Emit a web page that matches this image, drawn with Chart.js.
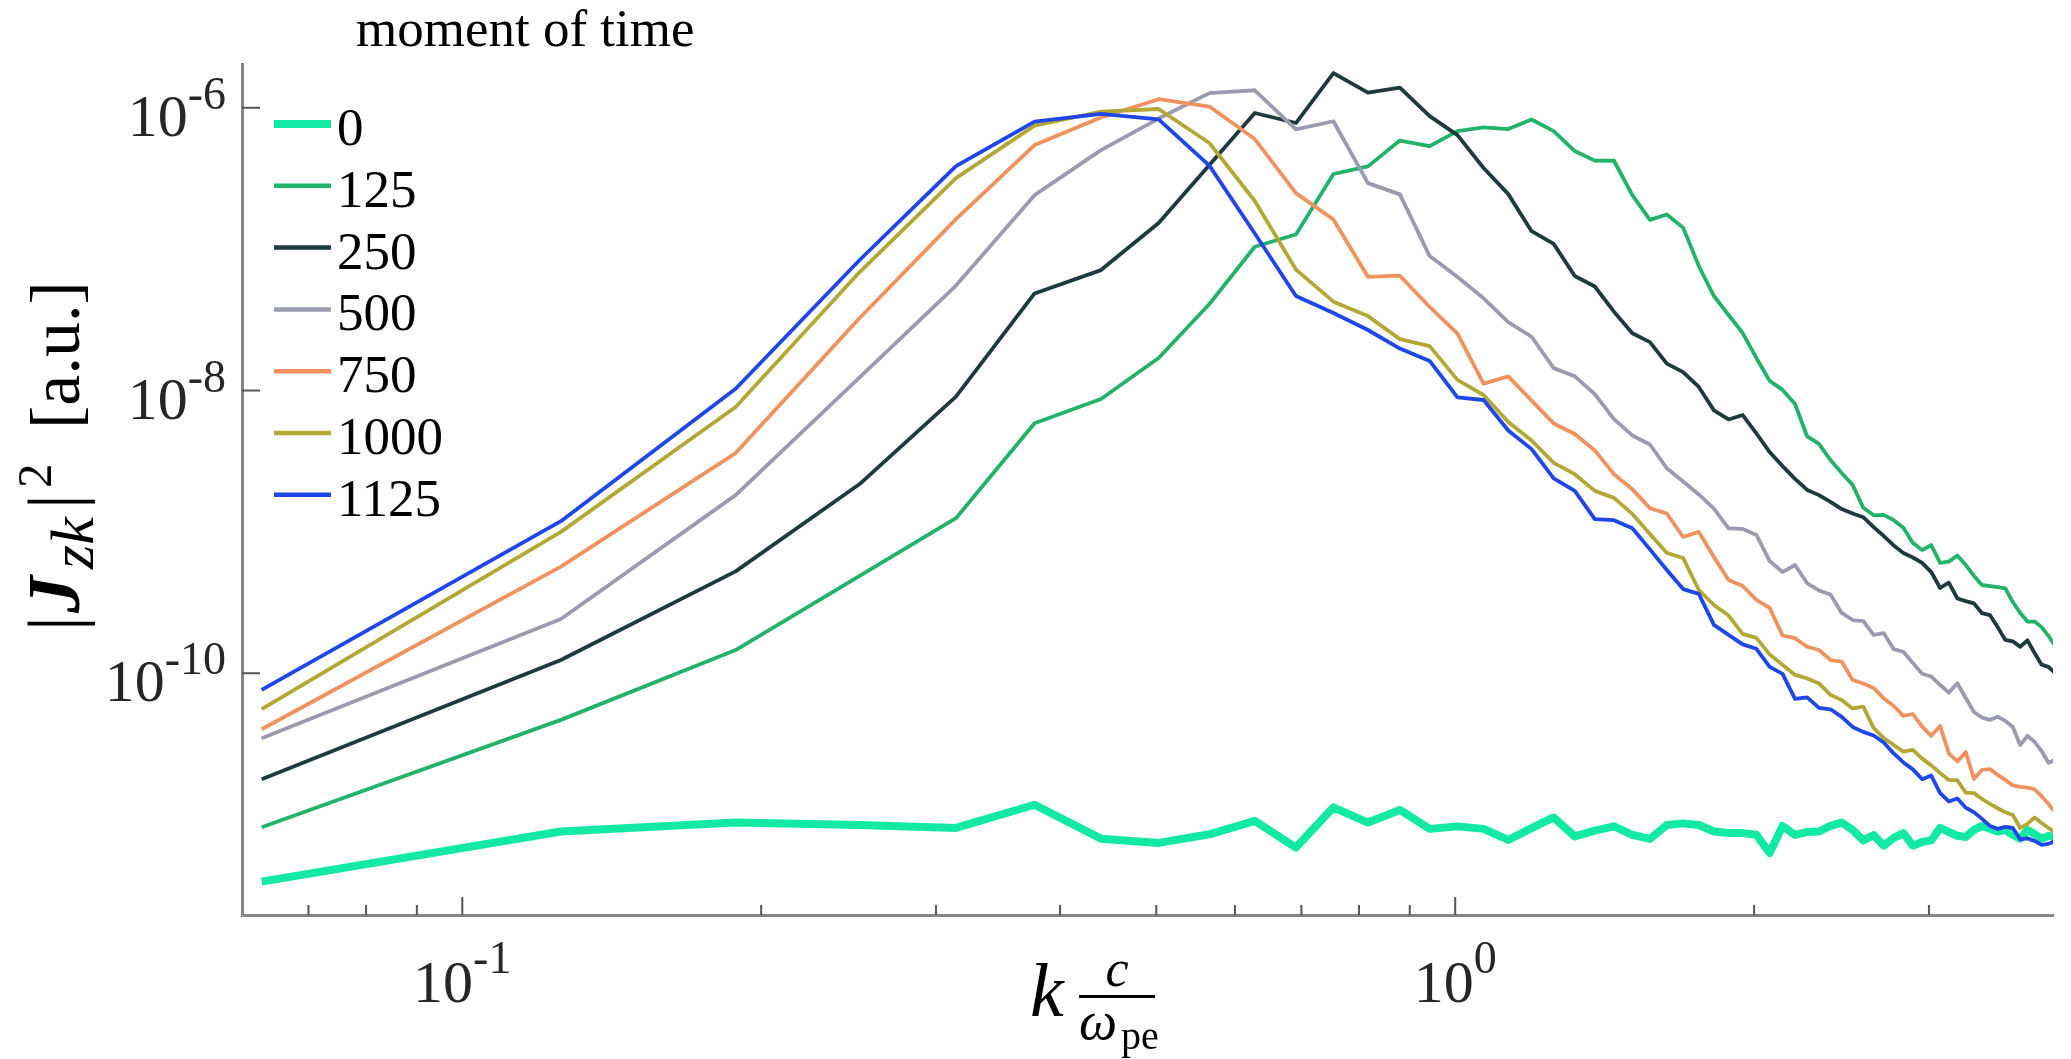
<!DOCTYPE html>
<html>
<head>
<meta charset="utf-8">
<script src="https://cdn.jsdelivr.net/npm/chart.js@4.4.0/dist/chart.umd.min.js"></script>
<style>
html,body{margin:0;padding:0;background:#fff;}
#wrap{width:2071px;height:1059px;position:relative;}
</style>
</head>
<body>
<div id="wrap"><canvas id="c"></canvas></div>
<script>
// wavenumber k c / omega_pe
const kValues = [0.0628,0.1257,0.1885,0.2513,0.3142,0.3770,0.4398,0.5027,0.5655,0.6283,
0.6912,0.7540,0.8168,0.8796,0.9425,1.0053,1.0681,1.1310,1.1938,1.2566,
1.3195,1.3823,1.4451,1.5080,1.5708,1.6336,1.6965,1.7593,1.8221,1.8850,
1.9478,2.0106,2.0735,2.1363,2.1991,2.2619,2.3248,2.3876,2.4504,2.5133,
2.5761,2.6389,2.7018,2.7646,2.8274,2.8903,2.9531,3.0159,3.0788,3.1416,
3.2044,3.2673,3.3301,3.3929,3.4558,3.5186,3.5814,3.6442,3.7071,3.7699,
3.8327,3.8956,3.9584,4.0212];

const t0 = [3.36e-12,7.59e-12,8.79e-12,8.45e-12,8.05e-12,1.175e-11,6.76e-12,6.31e-12,7.26e-12,9.04e-12,
5.85e-12,1.127e-11,8.79e-12,1.08e-11,7.93e-12,8.26e-12,7.93e-12,6.62e-12,8.02e-12,9.55e-12,
7.01e-12,7.71e-12,8.26e-12,7.19e-12,6.73e-12,8.45e-12,8.67e-12,8.45e-12,7.6e-12,7.41e-12,
7.4e-12,7.2e-12,5.36e-12,8.32e-12,7.18e-12,7.55e-12,7.6e-12,8.32e-12,8.79e-12,7.8e-12,
6.58e-12,7.18e-12,6.03e-12,6.84e-12,7.4e-12,6.03e-12,6.41e-12,6.58e-12,8.05e-12,7.55e-12,
7.08e-12,6.95e-12,7.8e-12,8.32e-12,7.93e-12,7.6e-12,7.8e-12,7.18e-12,6.76e-12,7.8e-12,
7.3e-12,6.76e-12,7.08e-12,6.95e-12];

const t125 = [8.15e-12,4.68e-11,1.46e-10,4.88e-10,1.25e-9,5.86e-9,8.71e-9,1.70e-8,4.09e-8,1.04e-7,
1.27e-7,3.40e-7,3.85e-7,5.86e-7,5.36e-7,6.84e-7,7.27e-7,7.07e-7,8.26e-7,6.84e-7,
4.94e-7,4.23e-7,4.22e-7,2.41e-7,1.61e-7,1.76e-7,1.42e-7,7.60e-8,4.66e-8,3.42e-8,
2.55e-8,1.70e-8,1.17e-8,1.01e-8,8.03e-9,4.73e-9,4.19e-9,3.22e-9,2.61e-9,2.15e-9,
1.48e-9,1.31e-9,1.32e-9,1.21e-9,1.07e-9,8.35e-10,7.45e-10,8.07e-10,6.03e-10,6.16e-10,
6.81e-10,5.83e-10,4.88e-10,4.21e-10,4.14e-10,4.07e-10,3.99e-10,3.19e-10,2.67e-10,2.32e-10,
2.32e-10,2.12e-10,1.84e-10,1.56e-10];

const t250 = [1.78e-11,1.24e-10,5.26e-10,2.18e-9,9.04e-9,4.86e-8,7.11e-8,1.53e-7,3.94e-7,9.18e-7,
7.80e-7,1.76e-6,1.28e-6,1.39e-6,8.73e-7,6.41e-7,3.75e-7,2.45e-7,1.34e-7,1.09e-7,
6.46e-8,5.44e-8,3.61e-8,2.54e-8,2.20e-8,1.55e-8,1.35e-8,1.06e-8,7.24e-9,6.24e-9,
6.71e-9,4.97e-9,3.67e-9,2.92e-9,2.37e-9,1.98e-9,1.82e-9,1.63e-9,1.45e-9,1.35e-9,
1.27e-9,1.08e-9,9.35e-10,8.02e-10,7.10e-10,6.59e-10,6.03e-10,5.20e-10,4.01e-10,4.37e-10,
3.38e-10,3.24e-10,3.12e-10,2.66e-10,2.58e-10,2.12e-10,1.72e-10,1.68e-10,1.54e-10,1.71e-10,
1.39e-10,1.15e-10,1.11e-10,1.00e-10];

const t500 = [3.47e-11,2.42e-10,1.82e-9,1.24e-8,5.53e-8,2.41e-7,5.02e-7,8.39e-7,1.27e-6,1.33e-6,
7.03e-7,8.03e-7,2.93e-7,2.44e-7,8.93e-8,6.35e-8,4.49e-8,3.05e-8,2.40e-8,1.44e-8,
1.26e-8,9.44e-9,6.28e-9,4.81e-9,4.15e-9,2.82e-9,2.27e-9,1.84e-9,1.46e-9,1.06e-9,
1.05e-9,9.51e-10,6.22e-10,5.20e-10,5.83e-10,4.33e-10,3.85e-10,3.61e-10,2.67e-10,2.38e-10,
2.34e-10,1.87e-10,1.92e-10,1.48e-10,1.42e-10,1.18e-10,9.93e-11,9.48e-11,8.26e-11,7.30e-11,
8.49e-11,6.68e-11,5.32e-11,4.86e-11,4.68e-11,4.93e-11,4.60e-11,4.17e-11,3.11e-11,3.61e-11,
3.27e-11,2.82e-11,2.33e-11,2.44e-11];

const t750 = [4.02e-11,5.68e-10,3.61e-9,3.26e-8,1.63e-7,5.45e-7,8.53e-7,1.15e-6,1.02e-6,6.01e-7,
2.49e-7,1.62e-7,6.37e-8,6.49e-8,3.90e-8,2.53e-8,1.12e-8,1.26e-8,8.49e-9,5.85e-9,
4.92e-9,3.77e-9,2.56e-9,2.00e-9,1.47e-9,1.35e-9,9.20e-10,1.00e-9,6.64e-10,4.57e-10,
4.14e-10,3.30e-10,2.90e-10,1.85e-10,1.77e-10,1.54e-10,1.46e-10,1.24e-10,1.21e-10,8.97e-11,
8.47e-11,7.87e-11,6.64e-11,5.87e-11,5.00e-11,5.15e-11,4.19e-11,3.61e-11,4.24e-11,2.71e-11,
2.38e-11,2.77e-11,1.79e-11,2.07e-11,2.10e-11,1.91e-11,1.76e-11,1.61e-11,1.57e-11,1.55e-11,
1.51e-11,1.35e-11,1.19e-11,1.04e-11];

const t1000 = [5.58e-11,1.00e-9,7.64e-9,6.89e-8,3.18e-7,7.48e-7,9.40e-7,9.80e-7,5.63e-7,2.19e-7,
7.17e-8,4.25e-8,3.36e-8,2.31e-8,2.06e-8,1.19e-8,9.29e-9,5.98e-9,4.43e-9,3.08e-9,
2.56e-9,1.95e-9,1.74e-9,1.34e-9,9.66e-10,7.10e-10,6.53e-10,3.88e-10,3.04e-10,2.56e-10,
1.90e-10,1.78e-10,1.36e-10,1.15e-10,9.73e-11,9.19e-11,8.47e-11,7.03e-11,6.47e-11,5.64e-11,
5.81e-11,4.10e-11,3.48e-11,3.11e-11,2.79e-11,2.87e-11,2.49e-11,2.23e-11,1.97e-11,1.76e-11,
1.75e-11,1.43e-11,1.42e-11,1.29e-11,1.19e-11,1.11e-11,1.04e-11,9.95e-12,8.05e-12,8.59e-12,
9.55e-12,8.73e-12,8.05e-12,7.43e-12];

const t1125 = [7.62e-11,1.19e-9,1.03e-8,8.38e-8,3.87e-7,7.98e-7,9.06e-7,8.28e-7,3.90e-7,1.29e-7,
4.66e-8,3.53e-8,2.68e-8,1.98e-8,1.62e-8,8.95e-9,8.57e-9,5.21e-9,3.85e-9,2.39e-9,
1.95e-9,1.23e-9,1.21e-9,1.06e-9,7.52e-10,5.38e-10,3.94e-10,3.64e-10,2.20e-10,1.87e-10,
1.60e-10,1.49e-10,1.11e-10,9.89e-11,6.58e-11,6.76e-11,5.69e-11,5.56e-11,4.91e-11,4.17e-11,
3.85e-11,3.63e-11,3.24e-11,2.71e-11,2.34e-11,2.09e-11,1.78e-11,1.89e-11,1.42e-11,1.24e-11,
1.30e-11,1.12e-11,1.04e-11,9.33e-12,8.32e-12,7.93e-12,8.18e-12,8.05e-12,6.68e-12,6.79e-12,
6.52e-12,6.11e-12,6.21e-12,6.52e-12];

const seriesLabels = ['0','125','250','500','750','1000','1125'];
const seriesValues = [t0, t125, t250, t500, t750, t1000, t1125];
const seriesColors = ['#12EAA3','#22B26A','#1D3A3D','#9B9BAF','#EF925E','#B3A836','#1F46E8'];
const seriesWidths = [8, 3.8, 3.8, 3.8, 3.8, 3.8, 3.8];
const legendTitle = 'moment of time';

const xMinorTicks = [0.07,0.08,0.09,0.2,0.3,0.4,0.5,0.6,0.7,0.8,0.9,2,3];
const xMajorTicks = [0.1, 1];
const xMajorExp = ['-1', '0'];
const yMajorTicks = [1e-10, 1e-8, 1e-6];
const yMajorExp = ['-10', '-8', '-6'];

const SERIF = '"Liberation Serif","Times New Roman",serif';

const datasets = seriesLabels.map((lab, i) => ({
  label: lab,
  data: kValues.map((k, j) => ({x: k, y: seriesValues[i][j]})),
  borderColor: seriesColors[i],
  backgroundColor: seriesColors[i],
  borderWidth: seriesWidths[i],
  pointRadius: 0,
  tension: 0,
  fill: false,
  borderJoinStyle: 'round',
  order: seriesLabels.length - i
}));

function drawPow(ctx, base, exp, x, baseY, supY, baseSize, supSize, align) {
  ctx.font = baseSize + 'px ' + SERIF;
  const wb = ctx.measureText(base).width;
  ctx.font = supSize + 'px ' + SERIF;
  const ws = ctx.measureText(exp).width;
  const total = wb + ws;
  let x0 = align === 'right' ? x - total : x - total / 2;
  ctx.textAlign = 'left';
  ctx.textBaseline = 'alphabetic';
  ctx.font = baseSize + 'px ' + SERIF;
  ctx.fillText(base, x0, baseY);
  ctx.font = supSize + 'px ' + SERIF;
  ctx.fillText(exp, x0 + wb, supY);
}

const decor = {
  id: 'decor',
  afterDraw(chart) {
    const ctx = chart.ctx;
    const xs = chart.scales.x, ys = chart.scales.y;
    const a = chart.chartArea;
    ctx.save();
    // inward tick marks
    ctx.strokeStyle = '#555';
    ctx.lineWidth = 2;
    xs.ticks.forEach(t => {
      const px = xs.getPixelForValue(t.value);
      const len = t.major ? 18 : 10;
      ctx.beginPath(); ctx.moveTo(px, a.bottom); ctx.lineTo(px, a.bottom - len); ctx.stroke();
    });
    ys.ticks.forEach(t => {
      const py = ys.getPixelForValue(t.value);
      ctx.beginPath(); ctx.moveTo(a.left, py); ctx.lineTo(a.left + 18, py); ctx.stroke();
    });
    // tick labels
    ctx.fillStyle = '#262626';
    xs.ticks.forEach(t => {
      const idx = xMajorTicks.indexOf(t.value);
      if (idx < 0) return;
      const px = xs.getPixelForValue(t.value);
      drawPow(ctx, '10', xMajorExp[idx], px, a.bottom + 87, a.bottom + 58, 60, 46, 'center');
    });
    ys.ticks.forEach(t => {
      const idx = yMajorTicks.indexOf(t.value);
      if (idx < 0) return;
      const py = ys.getPixelForValue(t.value);
      drawPow(ctx, '10', yMajorExp[idx], a.left - 16, py + 28, py + 1, 60, 46, 'right');
    });
    // legend
    ctx.fillStyle = '#000';
    ctx.font = '53px ' + SERIF;
    ctx.textAlign = 'left';
    ctx.textBaseline = 'alphabetic';
    ctx.fillText(legendTitle, a.left + 114, a.top - 18);
    seriesLabels.forEach((lab, i) => {
      const y = a.top + 60 + i * 61.8;
      ctx.strokeStyle = seriesColors[i];
      ctx.lineWidth = i === 0 ? 8 : 4.5;
      ctx.lineCap = 'butt';
      ctx.beginPath(); ctx.moveTo(a.left + 32, y); ctx.lineTo(a.left + 89, y); ctx.stroke();
      ctx.fillStyle = '#000';
      ctx.font = '53px ' + SERIF;
      ctx.fillText(lab, a.left + 95, y + 21);
    });
    // x-axis title: k c / omega_pe
    ctx.fillStyle = '#000';
    const bx = a.bottom;
    ctx.font = 'italic 76px ' + SERIF;
    ctx.fillText('k', 1030, bx + 101);
    ctx.font = 'italic 52px ' + SERIF;
    ctx.textAlign = 'center';
    ctx.fillText('c', 1117, bx + 71);
    ctx.fillRect(1079, bx + 80, 76, 3);
    ctx.textAlign = 'left';
    ctx.font = 'italic 54px ' + SERIF;
    ctx.fillText('\u03C9', 1079, bx + 124);
    ctx.font = '40px ' + SERIF;
    ctx.fillText('pe', 1121, bx + 134);
    // y-axis title: |J_zk|^2 [a.u.]
    ctx.save();
    ctx.translate(79, 631);
    ctx.rotate(-Math.PI / 2);
    ctx.font = '74px ' + SERIF;
    ctx.fillText('|', 0, 0);
    ctx.font = 'bold italic 74px ' + SERIF;
    ctx.fillText('J', 18, 0);
    ctx.font = 'italic 62px ' + SERIF;
    ctx.fillText('zk', 62, 14);
    ctx.font = '74px ' + SERIF;
    ctx.fillText('|', 122, 0);
    ctx.font = '49px ' + SERIF;
    ctx.fillText('2', 143, -28);
    ctx.font = '70px ' + SERIF;
    ctx.fillText('[a.u.]', 202, 0);
    ctx.restore();
    ctx.restore();
  }
};

new Chart(document.getElementById('c'), {
  type: 'line',
  data: { datasets },
  options: {
    responsive: true,
    maintainAspectRatio: false,
    animation: false,
    devicePixelRatio: 1,
    layout: { padding: { left: 242, right: 18, top: 64, bottom: 144 } },
    plugins: { legend: { display: false }, tooltip: { enabled: false } },
    scales: {
      x: {
        type: 'logarithmic',
        min: 0.06,
        max: 4.0,
        grid: { display: false, drawTicks: false, tickLength: 0 },
        border: { display: true, color: '#858585', width: 3 },
        ticks: { display: false, padding: 0 },
        afterBuildTicks: s => {
          s.ticks = xMinorTicks.map(v => ({value: v, major: false}))
            .concat(xMajorTicks.map(v => ({value: v, major: true})));
        }
      },
      y: {
        type: 'logarithmic',
        min: 1.95e-12,
        max: 2.04e-6,
        grid: { display: false, drawTicks: false, tickLength: 0 },
        border: { display: true, color: '#858585', width: 3 },
        ticks: { display: false, padding: 0 },
        afterBuildTicks: s => {
          s.ticks = yMajorTicks.map(v => ({value: v, major: true}));
        }
      }
    }
  },
  plugins: [decor]
});
</script>
</body>
</html>
